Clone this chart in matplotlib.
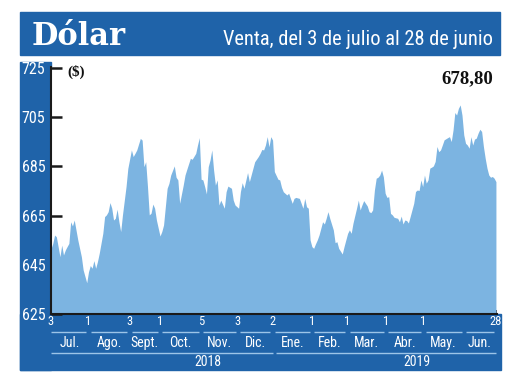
import matplotlib
matplotlib.use('Agg')
import matplotlib.pyplot as plt
import matplotlib.transforms as mtransforms
from matplotlib.patches import Rectangle

# ---------------- data (trading-day index, CLP per USD) ----------------
days = [0, 1, 2, 3, 5, 6, 7, 8, 9, 10, 11, 12, 13, 15, 17, 18, 20, 21, 22, 23,
        24, 25, 26, 27, 29, 30, 31, 32, 33, 34, 35, 36, 37, 38, 39, 40, 42, 43, 45, 46,
        47, 48, 50, 51, 52, 53, 54, 55, 56, 57, 58, 59, 61, 62, 63, 65, 66, 67, 69, 70,
        71, 72, 74, 75, 76, 78, 79, 81, 82, 83, 84, 85, 86, 87, 88, 89, 90, 91, 92, 93,
        94, 95, 97, 98, 99, 101, 102, 103, 105, 106, 107, 108, 110, 111, 113, 114, 116, 117, 118, 119,
        120, 121, 122, 123, 124, 125, 127, 128, 129, 130, 132, 133, 134, 135, 136, 137, 139, 140, 141, 142,
        143, 144, 145, 146, 147, 148, 149, 150, 152, 153, 154, 155, 156, 158, 159, 160, 161, 163, 164, 166,
        167, 168, 169, 171, 172, 173, 174, 175, 177, 178, 179, 180, 181, 182, 183, 184, 185, 186, 187, 188,
        189, 190, 191, 192, 194, 195, 196, 197, 198, 199, 200, 201, 203, 204, 205, 206, 207, 208, 209, 210,
        211, 212, 213, 214, 215, 216, 217, 218, 219, 220, 222, 223, 224, 225, 226, 227, 228, 229, 230, 231,
        232, 233, 234, 235, 236, 237, 238, 239, 240, 241, 242, 243, 244, 245, 246, 247, 248, 249]
values = [651.5, 653.7, 657.1, 656.4, 648.3, 653.0, 649.0, 651.0, 652.4, 653.7, 662.5, 660.8, 663.2, 655.1, 648.3, 642.9, 637.7, 642.2, 644.7, 643.6,
          646.7, 643.6, 646.3, 649.7, 657.8, 664.6, 665.3, 666.6, 670.3, 668.0, 663.2, 663.9, 667.6, 662.5, 658.5, 665.3, 676.8, 684.2, 691.7, 689.0,
          690.3, 691.7, 696.4, 695.7, 684.9, 686.9, 676.8, 665.3, 666.0, 669.7, 668.0, 663.2, 656.7, 658.5, 661.2, 676.1, 678.1, 681.5, 685.2, 680.6,
          679.5, 670.0, 677.4, 681.5, 683.8, 688.3, 687.9, 690.3, 693.7, 696.7, 679.8, 679.5, 676.8, 673.8, 684.9, 687.6, 691.7, 683.5, 677.4, 679.5,
          669.3, 671.3, 668.0, 674.7, 677.0, 676.1, 671.3, 669.3, 668.0, 674.7, 678.4, 676.1, 682.5, 678.8, 684.2, 686.9, 689.0, 690.3, 691.9, 691.7,
          693.7, 697.1, 693.0, 697.1, 695.7, 682.9, 679.8, 679.5, 676.5, 674.7, 673.4, 674.1, 672.0, 670.0, 672.0, 672.4, 672.0, 670.0, 668.0, 672.0,
          668.6, 668.0, 655.1, 652.4, 651.7, 653.5, 655.1, 657.1, 662.5, 661.6, 663.9, 666.6, 663.9, 659.2, 654.0, 654.4, 651.7, 649.4, 652.4, 657.8,
          659.2, 657.8, 661.9, 668.0, 671.3, 667.3, 669.3, 671.1, 668.9, 666.6, 666.2, 667.3, 675.4, 680.2, 680.6, 681.5, 683.5, 680.8, 674.1, 672.4,
          672.7, 665.9, 665.3, 664.3, 663.9, 662.5, 664.8, 661.6, 663.2, 663.0, 662.0, 664.6, 670.0, 674.8, 675.4, 675.2, 679.5, 676.8, 681.5, 678.2,
          679.5, 684.3, 684.7, 685.2, 687.0, 693.1, 691.0, 691.7, 693.7, 695.8, 696.7, 697.1, 695.1, 699.8, 706.9, 705.9, 708.6, 710.0, 705.9, 697.8,
          694.4, 693.7, 692.4, 697.1, 693.7, 696.1, 696.5, 698.5, 700.1, 699.2, 693.1, 688.3, 684.3, 681.5, 680.6, 680.9, 680.2, 678.8]

tick_days = [0, 21, 44, 61, 84, 104.5, 124, 146, 166, 187.5, 208.5, 249]
tick_labels = ['3', '1', '3', '1', '5', '3', '2', '1', '1', '1', '1', '28']
month_bounds = [0, 21, 44, 61, 84, 104.5, 124, 146, 166, 187.5, 208.5, 231, 249]
month_names = ['Jul.', 'Ago.', 'Sept.', 'Oct.', 'Nov.', 'Dic.', 'Ene.', 'Feb.',
               'Mar.', 'Abr.', 'May.', 'Jun.']
year_names = ['2018', '2019']
year_spans = [(0, 124), (126, 249)]
year_label_days = [88, 205]
y_ticks = [625, 645, 665, 685, 705, 725]
last_value_text = '678,80'
title = 'Dólar'
subtitle = 'Venta, del 3 de julio al 28 de junio'
unit = '($)'

# ---------------- style ----------------
BLUE = '#1f63a9'
FILL = '#7cb4e1'
LINE = '#9cc4e8'
NARROW = ['DejaVu Sans Condensed', 'Liberation Sans Narrow', 'Roboto Condensed', 'DejaVu Sans']
SERIF = ['Liberation Serif', 'DejaVu Serif']

W, H = 520, 390
fig = plt.figure(figsize=(W / 100, H / 100), dpi=100)
fig.patch.set_facecolor('white')

def fx(px):
    return px / W

def fy(py):
    return (H - py) / H

# background blocks (behind everything)
for (x0, y0, x1, y1) in [(20, 12, 500, 55), (20, 62, 51, 370), (20, 314, 501, 370)]:
    fig.patches.append(Rectangle((fx(x0), fy(y1)), fx(x1) - fx(x0), fy(y0) - fy(y1),
                                 transform=fig.transFigure, color=BLUE, zorder=-5))

ax = fig.add_axes([fx(51), fy(314), fx(497) - fx(51), fy(66.8) - fy(314)])
ax.set_facecolor('white')
ax.fill_between(days, values, 600, color=FILL, linewidth=0, zorder=2)
ax.set_xlim(0, 249.6)
ax.set_ylim(625, 725.5)

for s in ['top', 'right']:
    ax.spines[s].set_visible(False)
for s in ['left', 'bottom']:
    ax.spines[s].set_linewidth(1.5)
    ax.spines[s].set_color('#1a1a1a')
    ax.spines[s].set_zorder(3)
ax.xaxis.set_zorder(1)
ax.yaxis.set_zorder(1)

ax.set_yticks(y_ticks)
ax.set_yticklabels([str(v) for v in y_ticks], family=NARROW, fontsize=11.5, color='white')
ax.tick_params(axis='y', direction='in', length=8, width=1.8, color='#1a1a1a', pad=4.0)
ax.set_xticks(tick_days)
ax.set_xticklabels(tick_labels, family=NARROW, fontsize=9, color='white')
ax.tick_params(axis='x', direction='in', length=3, width=1.2, color='#1a1a1a', pad=0.8)

# month / year annotations below axis
tr = mtransforms.blended_transform_factory(ax.transData, fig.transFigure)
gap = 1.2
for i, name in enumerate(month_names):
    a, b = month_bounds[i], month_bounds[i + 1]
    a2 = a + (gap if i > 0 else 0)
    ax.plot([a2, b - gap], [fy(331.7)] * 2, transform=tr, color=LINE, lw=1.0,
            clip_on=False, solid_capstyle='butt')
    ax.text((a + b) / 2, fy(343), name, transform=tr, ha='center', va='center',
            color='white', family=NARROW, fontsize=10)
for (a, b), name, xl in zip(year_spans, year_names, year_label_days):
    ax.plot([a, b], [fy(352.7)] * 2, transform=tr, color=LINE, lw=1.0,
            clip_on=False, solid_capstyle='butt')
    ax.text(xl, fy(362), name, transform=tr, ha='center', va='center',
            color='white', family=NARROW, fontsize=10)

# titles
fig.text(fx(32), fy(45), title, ha='left', va='baseline', color='white',
         family=['DejaVu Serif'], fontweight='bold', fontsize=22)
fig.text(fx(493), fy(45), subtitle, ha='right', va='baseline', color='white',
         family=NARROW, fontsize=14.7)
fig.text(fx(67), fy(71.5), unit, ha='left', va='center', color='#111111',
         family=SERIF, fontweight='bold', fontsize=11)
fig.text(fx(493), fy(78.5), last_value_text, ha='right', va='center', color='#111111',
         family=SERIF, fontweight='bold', fontsize=13.5)

fig.savefig('out.png', dpi=100, facecolor='white')
